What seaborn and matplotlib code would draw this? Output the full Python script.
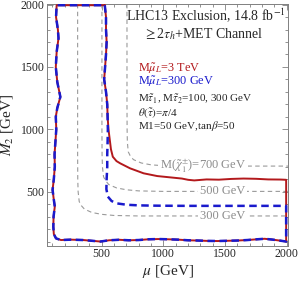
import matplotlib
matplotlib.use("Agg")
import matplotlib.pyplot as plt
import numpy as np
import pandas as pd
import seaborn as sns

# outer exclusion boundary shared by both scenarios (mu, M2) in GeV
outer_mu = [525, 535, 535, 540, 535, 520, 535, 545, 548]
outer_m2 = [1995, 1900, 1800, 1700, 1600, 1400, 1300, 1200, 1100]
left_mu = [135, 130, 145, 150, 135, 128, 140, 165, 140, 128, 132, 125, 118, 120, 112, 102,
           110, 120, 110, 108, 112, 130, 170]
left_m2 = [1995, 1900, 1800, 1730, 1620, 1500, 1380, 1260, 1170, 1100, 1000, 900, 800, 700,
           600, 515, 450, 380, 300, 220, 160, 125, 112]
bottom_mu = [250, 350, 420, 490, 560, 640, 720, 800, 880, 960, 1040, 1120, 1200, 1280, 1360,
             1440, 1520, 1600, 1680, 1760, 1820, 1880, 1940, 1995]
bottom_m2 = [115, 112, 106, 100, 110, 114, 110, 112, 118, 120, 118, 115, 110, 108, 105,
             104, 106, 108, 112, 118, 122, 116, 108, 100]

# heavy smuon (3 TeV) branch
red_mu = [555, 565, 575, 590, 620, 650, 730, 840, 950, 1050, 1150, 1200, 1250, 1350, 1450,
          1550, 1650, 1750, 1850, 1950, 1995]
red_m2 = [1000, 920, 840, 780, 745, 727, 687, 647, 625, 615, 605, 595, 590, 598, 596,
          602, 605, 603, 598, 597, 595]
# light smuon (300 GeV) branch
blue_mu = [550, 548, 545, 545, 540, 538, 550, 580, 622, 700, 800, 900, 1000, 1200, 1500, 1800, 1995]
blue_m2 = [1000, 900, 800, 700, 600, 520, 460, 425, 406, 395, 390, 388, 387, 386, 386, 386, 386]

# chargino mass contours
c700_mu = [705, 705, 706, 708, 715, 730, 757, 820, 900, 1000, 1200, 2010]
c700_m2 = [2005, 1200, 1000, 900, 820, 790, 757, 730, 715, 708, 705, 705]
c500_mu = [502, 502, 503, 506, 515, 530, 557, 620, 700, 800, 1000, 2010]
c500_m2 = [2005, 1000, 800, 700, 620, 590, 557, 530, 515, 506, 502, 502]
c300_mu = [305, 305, 306, 309, 318, 333, 360, 420, 500, 600, 800, 2010]
c300_m2 = [2005, 800, 600, 500, 420, 390, 360, 333, 318, 309, 305, 305]

# closed contours as tables
upper = list(zip(outer_mu, outer_m2))
back = list(zip(bottom_mu[::-1], bottom_m2[::-1])) + list(zip(left_mu[::-1], left_m2[::-1]))
red = pd.DataFrame(upper + list(zip(red_mu, red_m2)) + [(1995, 100)] + back + [upper[0]],
                   columns=["mu", "M2"])
blue = pd.DataFrame(upper + list(zip(blue_mu, blue_m2)) + [(1995, 100)] + back + [upper[0]],
                    columns=["mu", "M2"])

sns.set_style("ticks")
plt.rcParams["font.family"] = ["Liberation Serif", "DejaVu Serif"]
plt.rcParams["mathtext.fontset"] = "stix"

fig = plt.figure(figsize=(3, 2.83), dpi=100)
ax = fig.add_axes([0.158, 0.132, 0.802, 0.854])

gray = "#9a9a9a"
for cm, cy in [(c700_mu, c700_m2), (c500_mu, c500_m2), (c300_mu, c300_m2)]:
    ax.plot(cm, cy, color=gray, lw=0.8, ls=(0, (4, 3)), zorder=1)

sns.lineplot(data=red, x="mu", y="M2", sort=False, estimator=None, color="#b3191c",
             lw=1.4, ax=ax, zorder=3)
sns.lineplot(data=blue, x="mu", y="M2", sort=False, estimator=None, color="#1a1acc",
             lw=1.8, ax=ax, zorder=4)
ax.lines[-1].set_linestyle((0, (3, 1.8)))

lab = dict(color="#8c8c8c", fontsize=9, ha="center", va="center", zorder=2,
           bbox=dict(fc="white", ec="none", pad=1.2))
ax.text(1320, 706, r"M($\tilde{\chi}^{\pm}_{1}$)=700 GeV", **lab)
ax.text(1480, 502, "500 GeV", **lab)
ax.text(1480, 305, "300 GeV", **lab)

ax.text(1340, 1905, r"LHC13 Exclusion, 14.8 fb$^{-1}$", fontsize=10, ha="center", va="center")
ax.text(1320, 1765, r"$\geq$2$\tau_h$+MET Channel", fontsize=10, ha="center", va="center")
ax.text(795, 1485, r"M$\tilde{\mu}_L$=3 TeV", fontsize=8.8, color="#b3191c", va="center")
ax.text(795, 1380, r"M$\tilde{\mu}_L$=300 GeV", fontsize=8.8, color="#1a1acc", va="center")
ax.text(795, 1243, r"M$\tilde{\tau}_1$, M$\tilde{\tau}_2$=100, 300 GeV", fontsize=8, va="center")
ax.text(795, 1131, r"$\theta(\tilde{\tau})$=$\pi$/4", fontsize=8, va="center")
ax.text(795, 1029, r"M1=50 GeV,tan$\beta$=50", fontsize=8, va="center")

ax.set_xlim(60, 2010)
ax.set_ylim(67, 2005)
ax.set_xticks([500, 1000, 1500, 2000])
ax.set_yticks([500, 1000, 1500, 2000])
ax.set_xticks(np.arange(100, 2001, 100), minor=True)
ax.set_yticks(np.arange(100, 2001, 100), minor=True)
ax.tick_params(which="both", direction="in", top=True, right=True, color="#808080",
               labelsize=8.5, width=0.6, pad=2)
ax.tick_params(which="major", length=4)
ax.tick_params(which="minor", length=2)
for s in ax.spines.values():
    s.set_color("#808080")
    s.set_linewidth(0.7)
ax.set_xlabel(r"$\mu$ [GeV]", fontsize=11, labelpad=2)
ax.set_ylabel(r"$M_2$ [GeV]", fontsize=11, labelpad=4)

fig.savefig("out.png", dpi=100)
